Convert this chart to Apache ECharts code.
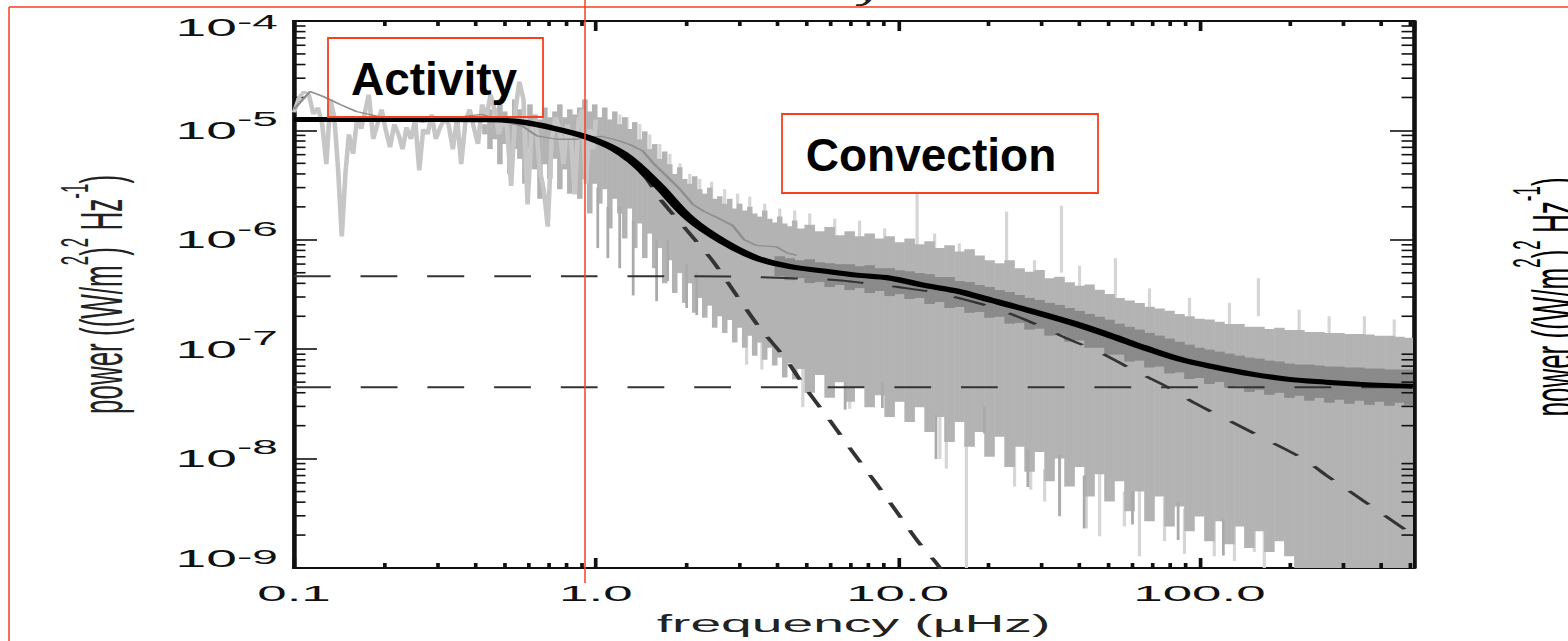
<!DOCTYPE html>
<html><head><meta charset="utf-8">
<script src="https://cdn.jsdelivr.net/npm/echarts@6/dist/echarts.min.js"></script>
<style>
html,body{margin:0;padding:0;background:#fff;width:1568px;height:641px;overflow:hidden;}
#main{position:absolute;left:0;top:0;height:641px;transform-origin:0 0;}
#over{position:absolute;left:0;top:0;width:1568px;height:641px;pointer-events:none;}
</style></head><body>
<div id="main"></div><div id="over"></div>
<script>
// ---------------- data ----------------
const xTickValues = [0.1, 1, 10, 100];
const xTickLabels = ['0.1', '1.0', '10.0', '100.0'];
const yTickValues = [1e-9, 1e-8, 1e-7, 1e-6, 1e-5, 1e-4];
const yTickExps = ['-9', '-8', '-7', '-6', '-5', '-4'];
const xMinorTicks = [0.2,0.3,0.4,0.5,0.6,0.7,0.8,0.9,2,3,4,5,6,7,8,9,20,30,40,50,60,70,80,90,200,300,400,500];
const yMinorTicks = [2e-9,3e-9,4e-9,5e-9,6e-9,7e-9,8e-9,9e-9,2e-8,3e-8,4e-8,5e-8,6e-8,7e-8,8e-8,9e-8,
  2e-7,3e-7,4e-7,5e-7,6e-7,7e-7,8e-7,9e-7,2e-6,3e-6,4e-6,5e-6,6e-6,7e-6,8e-6,9e-6,2e-5,3e-5,4e-5,5e-5,6e-5,7e-5,8e-5,9e-5];

// raw spectrum, low-frequency part (light grey trace)
const lightLowF = [0.100,0.104,0.108,0.112,0.116,0.120,0.124,0.128,0.132,0.136,0.140,0.144,0.148,0.152,0.157,0.162,0.167,0.172,0.177,0.183,0.189,0.195,0.201,0.208,0.215,0.222,0.229,0.236,0.244,0.252,0.260,0.268,0.277,0.286,0.295,0.305,0.315,0.325,0.336,0.347,0.358,0.370,0.382,0.394,0.407,0.420,0.434,0.448,0.462,0.477,0.492,0.508,0.524,0.541,0.558,0.576,0.594,0.613,0.632,0.652,0.672,0.693,0.714,0.736,0.758,0.781,0.804,0.828,0.852,0.877,0.902,0.928,0.954,0.980,1.0];
const lightLowP = [1.46e-5,2.0e-5,2.27e-5,2.13e-5,1.40e-5,1.62e-5,1.14e-5,4.9e-6,1.92e-5,1.32e-5,4.4e-6,1.07e-6,4.0e-6,9.2e-6,6.1e-6,1.32e-5,1.03e-5,1.49e-5,2.13e-5,8.3e-6,1.14e-5,1.56e-5,1.03e-5,7.0e-6,1.14e-5,9.2e-6,6.7e-6,1.07e-5,8.3e-6,1.26e-5,4.3e-6,1.03e-5,9.2e-6,1.40e-5,8.3e-6,1.07e-5,1.26e-5,1.14e-5,6.7e-6,1.32e-5,4.9e-6,1.21e-5,1.56e-5,1.07e-5,7.5e-6,1.73e-5,1.32e-5,2.13e-5,1.56e-5,9.2e-6,1.26e-5,1.07e-5,3.1e-6,1.49e-5,2.8e-5,1.92e-5,2.1e-6,1.03e-5,1.26e-5,4.4e-6,2.9e-6,1.32e-6,8.3e-6,1.32e-5,1.03e-5,4.9e-6,1.14e-5,8.3e-6,2.6e-6,1.26e-5,1.56e-5,3.25e-6,1.03e-5,6.7e-6,1.26e-5];

// spectrum spread [frequency, low power, high power]
const bandLow = [[0.429,9.2e-6,1.14e-5],[0.446,6.75e-6,1.56e-5],[0.463,8.3e-6,1.32e-5],[0.481,4.9e-6,1.73e-5],[0.4995,7.5e-6,1.49e-5],[0.519,4.0e-6,1.14e-5],[0.539,6.75e-6,1.92e-5],[0.560,5.5e-6,1.56e-5],[0.582,3.25e-6,1.26e-5],[0.605,6.75e-6,1.73e-5],[0.628,4.4e-6,1.40e-5],[0.653,2.37e-6,1.26e-5],[0.678,4.9e-6,1.62e-5],[0.704,3.6e-6,1.32e-5],[0.732,5.5e-6,1.49e-5],[0.760,2.9e-6,1.73e-5],[0.790,4.4e-6,1.32e-5],[0.820,2.64e-6,1.56e-5],[0.852,4.0e-6,1.40e-5],[0.885,2.37e-6,1.62e-5],[0.920,3.6e-6,1.92e-5],[0.955,1.74e-6,1.49e-5],[0.992,3.25e-6,1.73e-5],[1.031,2.14e-6,1.32e-5],[1.071,2.9e-6,1.62e-5],[1.113,1.27e-6,1.26e-5],[1.156,2.37e-6,1.49e-5],[1.201,1.74e-6,1.14e-5],[1.247,1.03e-6,1.32e-5],[1.296,1.93e-6,1.03e-5],[1.346,8.4e-7,1.19e-5],[1.399,1.41e-6,8.3e-6],[1.453,6.8e-7,9.8e-6],[1.510,1.14e-6,6.75e-6],[1.568,5.5e-7,7.5e-6],[1.629,8.4e-7,5.5e-6],[1.692,4.0e-7,6.4e-6],[1.758,6.5e-7,4.9e-6],[1.826,3.26e-7,4.0e-6],[1.897,4.96e-7,4.6e-6],[1.971,2.65e-7,3.6e-6],[2.048,4.0e-7,3.25e-6],[2.127,2.15e-7,3.8e-6],[2.210,2.94e-7,2.9e-6],[2.296,1.94e-7,2.64e-6],[2.385,2.5e-7,3.0e-6],[2.477,1.57e-7,2.37e-6],[2.574,2.0e-7,2.5e-6],[2.674,1.41e-7,2.14e-6],[2.778,1.85e-7,2.37e-6],[2.886,1.15e-7,1.93e-6],[2.998,1.57e-7,2.14e-6],[3.114,1.03e-7,1.85e-6],[3.236,1.33e-7,2.0e-6],[3.361,8.7e-8,1.74e-6],[3.492,1.15e-7,1.63e-6],[3.628,8.0e-8,1.85e-6],[3.769,1.03e-7,1.56e-6],[3.915,7.1e-8,1.44e-6],[4.068,8.4e-8,1.63e-6],[4.226,5.5e-8,1.41e-6],[4.390,7.4e-8,1.33e-6],[4.560,5.3e-8,1.5e-6]];
const bandHigh = [[4.738,6.6e-8,1.27e-6],[5.113,4.0e-8,1.37e-6],[5.517,5.8e-8,1.2e-6],[5.954,3.6e-8,1.31e-6],[6.426,5.0e-8,1.1e-6],[6.935,3.3e-8,1.2e-6],[7.484,4.5e-8,1.08e-6],[8.077,2.95e-8,1.14e-6],[8.717,3.8e-8,1.03e-6],[9.408,2.4e-8,1.08e-6],[10.15,3.3e-8,9.5e-7],[10.96,2.16e-8,1.03e-6],[11.82,2.95e-8,9.1e-7],[12.76,1.75e-8,9.7e-7],[13.77,2.4e-8,8.4e-7],[14.86,1.42e-8,8.9e-7],[16.04,2.16e-8,7.8e-7],[17.31,1.28e-8,8.2e-7],[18.68,1.75e-8,7.2e-7],[20.16,1.04e-8,6.5e-7],[21.76,1.58e-8,6.1e-7],[23.49,8.4e-9,6.5e-7],[25.35,1.28e-8,5.5e-7],[27.36,7.6e-9,5.1e-7],[29.53,1.15e-8,5.3e-7],[31.87,6.2e-9,4.46e-7],[34.39,1.0e-8,4.6e-7],[37.12,5.55e-9,4.1e-7],[40.06,8.4e-9,3.8e-7],[43.23,4.5e-9,3.9e-7],[46.66,7.2e-9,3.5e-7],[50.35,4.05e-9,3.2e-7],[54.34,6.2e-9,2.94e-7],[58.65,3.3e-9,2.78e-7],[63.30,5.0e-9,2.65e-7],[68.31,2.67e-9,2.45e-7],[73.72,4.5e-9,2.35e-7],[79.57,2.4e-9,2.25e-7],[85.87,3.65e-9,2.1e-7],[92.67,2.17e-9,2.0e-7],[100.0,2.96e-9,1.9e-7],[107.9,1.76e-9,1.87e-7],[116.5,2.67e-9,1.78e-7],[125.7,1.65e-9,1.7e-7],[135.7,2.4e-9,1.7e-7],[146.4,1.52e-9,1.6e-7],[158.0,2.17e-9,1.6e-7],[170.5,1.4e-9,1.53e-7],[184.1,1.76e-9,1.57e-7],[198.6,1.28e-9,1.5e-7],[214.4,9e-10,1.5e-7],[231.4,9e-10,1.44e-7],[249.7,9e-10,1.44e-7],[269.5,9e-10,1.41e-7],[290.8,9e-10,1.41e-7],[313.9,9e-10,1.38e-7],[338.8,9e-10,1.38e-7],[365.6,9e-10,1.36e-7],[394.6,9e-10,1.33e-7],[425.8,9e-10,1.33e-7],[459.6,9e-10,1.3e-7],[496.0,9e-10,1.27e-7]];
const lightSpikes = [[1.201,5.5e-6,1.4e-5],[1.27,4.4e-6,1.32e-5],[1.399,3.6e-6,1.14e-5],[1.51,2.9e-6,9.2e-6],[1.63,2.4e-6,7.5e-6],[1.76,1.9e-6,6.1e-6],[1.9,1.6e-6,5.0e-6],[2.048,1.27e-6,4.0e-6],[2.21,1.1e-6,3.6e-6],[2.42,1.0e-6,3.4e-6],[2.674,9e-7,2.9e-6],[2.95,8e-7,2.64e-6],[3.236,7e-7,2.48e-6],[3.628,6.5e-7,2.14e-6],[4.068,6e-7,1.93e-6],[4.56,5.5e-7,1.85e-6],[5.113,5e-7,1.74e-6],[6.19,4.5e-7,1.56e-6],[7.48,4.5e-7,1.5e-6],[9.06,4.2e-7,1.27e-6],[11.6,8.4e-7,2.75e-6],[13.26,4e-7,1.14e-6],[16.0,4e-7,9.3e-7],[22.96,6.1e-7,1.81e-6],[28.4,3e-7,6.5e-7],[34.9,5e-7,2.05e-6],[40.06,2.5e-7,5.8e-7],[52.7,2.94e-7,6.8e-7],[68.3,2e-7,3.6e-7],[92.7,1.7e-7,2.94e-7],[125.7,1.5e-7,2.65e-7],[156.8,2.0e-7,4.46e-7],[214,1.3e-7,2.3e-7],[269,1.3e-7,2.0e-7],[352,1.25e-7,2.0e-7],[442,1.2e-7,1.87e-7],
  [3.16,7.2e-8,1.5e-7],[3.55,6.5e-8,1.3e-7],[4.85,2.95e-8,7e-8],[6.94,2.85e-8,5e-8],[9.2,2.4e-8,4e-8],[13.8,9.9e-9,3e-8],[14.5,8.1e-9,3e-8],[16.9,9e-10,2.5e-8],[24.4,5.55e-9,1.5e-8],[27.6,5.2e-9,1.2e-8],[30.7,4.05e-9,8e-9],[34.4,2.96e-9,1.2e-8],[42.2,2.3e-9,6e-9],[46.7,1.95e-9,8e-9],[56.4,2.4e-9,5e-9],[63.3,1.28e-9,5.5e-9],[76.6,1.76e-9,4.5e-9],[89.2,1.35e-9,3.5e-9],[112,1.28e-9,2.7e-9],[130.6,1.16e-9,2.4e-9],[152,1.4e-9,2.2e-9],[164,9e-10,2.2e-9]];
const medSpikes = [[1.015,8.4e-7,3e-6],[1.096,6.8e-7,2e-6],[1.2,5.5e-7,2e-6],[1.33,3.1e-7,1.5e-6],[1.59,2.75e-7,1e-6],[1.73,4.2e-7,1e-6],[2.0,2.38e-7,6e-7],[2.16,2.05e-7,5e-7],[6.7,2.8e-8,5e-8],[8.9,2.9e-8,5e-8],[13.4,9.9e-9,2.5e-8],[19.4,1.7e-8,3e-8],[27.0,5.5e-9,1.2e-8],[34.4,3e-9,1.1e-8],[41.5,2.3e-9,7e-9],[60,2.5e-9,5e-9],[85,1.8e-9,4e-9],[120,1.3e-9,2.8e-9]];
// smoothed spectrum: dark band at high frequency, dark line at low frequency
const darkBand = [[4.068,4.65e-7,7.07e-7],[4.390,4.28e-7,6.78e-7],[4.738,4.46e-7,6.5e-7],[5.113,4.02e-7,6.64e-7],[5.517,4.11e-7,6.24e-7],[5.954,3.70e-7,6.11e-7],[6.426,3.86e-7,5.98e-7],[6.935,3.47e-7,5.98e-7],[7.484,3.62e-7,5.73e-7],[8.077,3.26e-7,5.86e-7],[8.717,3.40e-7,5.50e-7],[9.408,3.06e-7,5.50e-7],[10.15,3.19e-7,5.27e-7],[10.96,2.88e-7,5.16e-7],[11.82,2.94e-7,4.96e-7],[12.76,2.59e-7,4.85e-7],[13.77,2.70e-7,4.56e-7],[14.86,2.38e-7,4.56e-7],[16.04,2.43e-7,4.19e-7],[17.31,2.15e-7,4.11e-7],[18.68,2.19e-7,3.86e-7],[20.16,1.94e-7,3.70e-7],[21.76,1.98e-7,3.47e-7],[23.49,1.71e-7,3.33e-7],[25.35,1.74e-7,3.13e-7],[27.36,1.51e-7,2.94e-7],[29.53,1.54e-7,2.82e-7],[31.87,1.33e-7,2.65e-7],[34.39,1.36e-7,2.54e-7],[37.12,1.17e-7,2.38e-7],[40.06,1.20e-7,2.24e-7],[43.23,1.03e-7,2.10e-7],[46.66,1.03e-7,1.98e-7],[50.35,8.92e-8,1.86e-7],[54.34,8.92e-8,1.71e-7],[58.65,7.71e-8,1.60e-7],[63.30,7.87e-8,1.51e-7],[68.31,6.80e-8,1.41e-7],[73.72,6.94e-8,1.33e-7],[79.57,6.00e-8,1.25e-7],[85.87,6.13e-8,1.17e-7],[92.67,5.34e-8,1.10e-7],[100.0,5.45e-8,1.03e-7],[107.9,4.81e-8,9.91e-8],[116.5,5.02e-8,9.50e-8],[125.7,4.43e-8,9.11e-8],[135.7,4.62e-8,8.74e-8],[146.4,4.07e-8,8.38e-8],[158.0,4.25e-8,8.21e-8],[170.5,3.83e-8,7.87e-8],[184.1,3.99e-8,7.71e-8],[198.6,3.59e-8,7.39e-8],[214.4,3.75e-8,7.24e-8],[231.4,3.38e-8,7.24e-8],[249.7,3.59e-8,7.09e-8],[269.5,3.24e-8,6.94e-8],[290.8,3.45e-8,6.94e-8],[313.9,3.17e-8,6.80e-8],[338.8,3.38e-8,6.80e-8],[365.6,3.10e-8,6.66e-8],[394.6,3.31e-8,6.66e-8],[425.8,3.04e-8,6.52e-8],[459.6,3.24e-8,6.52e-8],[496.0,3.10e-8,6.52e-8]];
const smoothF = [0.1,0.113,0.125,0.142,0.161,0.188,0.224,0.267,0.32,0.374,0.42,0.49,0.573,0.638,0.743,0.865,0.934,1.05,1.2,1.3,1.43,1.55,1.72,1.9,2.1,2.3,2.52,2.84,3.1,3.4,3.97,4.3,4.63];
const smoothP = [1.56e-5,2.27e-5,2.04e-5,1.73e-5,1.49e-5,1.35e-5,1.26e-5,1.19e-5,1.26e-5,1.35e-5,1.4e-5,1.21e-5,1.09e-5,8.9e-6,8.3e-6,8.3e-6,8.7e-6,8.8e-6,8.0e-6,7.4e-6,6.5e-6,5.0e-6,3.8e-6,2.9e-6,2.1e-6,1.8e-6,1.6e-6,1.35e-6,1.0e-6,8.9e-7,8.6e-7,7.6e-7,7.2e-7];
// fitted model and its components
const fitF = [0.1,0.2,0.3,0.45,0.56,0.71,0.955,1.23,1.59,2.05,2.63,3.41,4.39,5.64,7.3,9.4,12.1,15.7,20.2,27,37.9,50,65.8,86.8,114,150,198,261,344,510];
const fitP = [1.26e-5,1.26e-5,1.26e-5,1.25e-5,1.2e-5,1.06e-5,8.5e-6,6.1e-6,3.25e-6,1.56e-6,9.7e-7,6.8e-7,5.7e-7,5.2e-7,4.75e-7,4.47e-7,3.86e-7,3.4e-7,2.82e-7,2.28e-7,1.74e-7,1.35e-7,1.03e-7,8.05e-8,6.8e-8,5.9e-8,5.3e-8,5.0e-8,4.77e-8,4.58e-8];
const actF = [0.1,0.5,0.8,1.0,1.2,1.45,1.65,2.02,2.44,2.93,3.49,4.22,4.99,5.95,7.1,8.5,9.9,11.65,13.5,14.5];
const actP = [1.26e-5,1.24e-5,1.0e-5,8.0e-6,6.0e-6,3.8e-6,2.28e-6,1.19e-6,6.4e-7,3.1e-7,1.57e-7,8.4e-8,4.3e-8,2.25e-8,1.15e-8,5.9e-9,3.3e-9,1.76e-9,1.09e-9,8.2e-10];
const granF = [0.1,1,3,5,6.5,8.5,10,13.5,19,26,36,47,62,78.4,98,128,165,220,260,350,510];
const granP = [4.65e-7,4.65e-7,4.6e-7,4.4e-7,4.25e-7,3.9e-7,3.7e-7,3.27e-7,2.58e-7,1.9e-7,1.27e-7,9.3e-8,6.2e-8,4.5e-8,3.14e-8,2.16e-8,1.51e-8,1.0e-8,7.2e-9,4.1e-9,2.0e-9];
const noiseF = [0.1, 510];
const noiseP = [4.5e-8, 4.5e-8];

// ---------------- drawing ----------------
const S = 2.3;              // horizontal stretch of the original figure
const W = 1568 / S;
const FONT = "'Liberation Sans', Arial, Helvetica, sans-serif";
const mainEl = document.getElementById('main');
mainEl.style.width = W + 'px';
mainEl.style.transform = 'scaleX(' + S + ')';
const chart = echarts.init(mainEl, null, {renderer: 'svg', width: W, height: 641});

function near(a, b) { return Math.abs(Math.log10(a) - Math.log10(b)) < 1e-6; }
function rectSeries(data, color, w) {
  return {
    type: 'custom', silent: true, animation: false, data: data,
    encode: {x: 0, y: [1, 2]},
    renderItem: function (params, api) {
      const f = api.value(0), lo = api.value(1), hi = api.value(2);
      const pt = api.coord([f, hi]), pb = api.coord([f, lo]);
      const cs = params.coordSys;
      const shape = echarts.graphic.clipRectByRect(
        {x: pt[0] - w / 2, y: pt[1], width: w, height: pb[1] - pt[1]},
        {x: cs.x, y: cs.y, width: cs.width, height: cs.height});
      if (!shape) return null;
      return {type: 'rect', shape: shape, style: {fill: color}};
    }
  };
}
function lineSeries(fs, ps, color, width, dash, smooth) {
  return {
    type: 'line', data: fs.map(function (f, i) { return [f, ps[i]]; }),
    symbol: 'none', showSymbol: false, smooth: smooth || false,
    silent: true, animation: false, clip: true,
    lineStyle: {color: color, width: width, type: dash || 'solid', cap: 'butt'}
  };
}
const TICK = '#111';
const minorX = {
  type: 'custom', silent: true, animation: false,
  data: xMinorTicks.map(function (v) { return [v, 1e-6]; }),
  renderItem: function (params, api) {
    const p = api.coord([api.value(0), api.value(1)]);
    const cs = params.coordSys, b = cs.y + cs.height, t = cs.y;
    return {type: 'group', children: [
      {type: 'line', shape: {x1: p[0], y1: b, x2: p[0], y2: b - 5}, style: {stroke: TICK, lineWidth: 1.6}},
      {type: 'line', shape: {x1: p[0], y1: t, x2: p[0], y2: t + 5}, style: {stroke: TICK, lineWidth: 1.6}}
    ]};
  }
};
const minorY = {
  type: 'custom', silent: true, animation: false,
  data: yMinorTicks.map(function (v) { return [1, v]; }),
  renderItem: function (params, api) {
    const p = api.coord([api.value(0), api.value(1)]);
    const cs = params.coordSys, l = cs.x, r = cs.x + cs.width;
    return {type: 'group', children: [
      {type: 'line', shape: {x1: l, y1: p[1], x2: l + 5, y2: p[1]}, style: {stroke: TICK, lineWidth: 1.6}},
      {type: 'line', shape: {x1: r, y1: p[1], x2: r - 5, y2: p[1]}, style: {stroke: TICK, lineWidth: 1.6}}
    ]};
  }
};
const axLine = {show: true, onZero: false, lineStyle: {color: TICK, width: 2}};
const axTick = {show: true, inside: true, length: 10, lineStyle: {color: TICK, width: 1.6}};
const titleRich = {
  a: {fontSize: 26, lineHeight: 40, fontFamily: FONT, color: '#222'},
  p: {fontSize: 17, lineHeight: 17, verticalAlign: 'top', fontFamily: FONT, color: '#222'}
};
const titleText = '{a|power ((W/m}{p|2}{a|)}{p|2}{a| Hz}{p|-1}{a|)}';
const LBL = '#111';

chart.setOption({
  animation: false,
  grid: {left: 294 / S, top: 21, width: 1119 / S, height: 551},
  xAxis: [
    {type: 'log', logBase: 10, min: 0.1, max: 510, position: 'bottom',
     axisLine: axLine, axisTick: axTick, splitLine: {show: false},
     axisLabel: {margin: 14, fontSize: 23, fontFamily: FONT, color: LBL, showMaxLabel: false,
       formatter: function (v) { for (let i = 0; i < xTickValues.length; i++) if (near(v, xTickValues[i])) return xTickLabels[i]; return ''; }},
     name: 'frequency (µHz)', nameLocation: 'middle', nameGap: 44,
     nameTextStyle: {fontSize: 24, fontFamily: FONT, color: '#222'}},
    {type: 'log', logBase: 10, min: 0.1, max: 510, position: 'top',
     axisLine: axLine, axisTick: axTick, splitLine: {show: false}, axisLabel: {show: false}}
  ],
  yAxis: [
    {type: 'log', logBase: 10, min: 1e-9, max: 1e-4, position: 'left',
     axisLine: axLine, axisTick: axTick, splitLine: {show: false},
     axisLabel: {margin: 7, color: LBL,
       formatter: function (v) {
         for (let i = 0; i < yTickValues.length; i++) {
           if (near(v, yTickValues[i])) {
             if (i === 0) return '{bb|10}{s|' + yTickExps[i] + '}';
             if (i === yTickValues.length - 1) return '{bt|10}{st|' + yTickExps[i] + '}';
             return '{b|10}{s|' + yTickExps[i] + '}';
           }
         }
         return '';
       },
       rich: {
         b: {fontSize: 24, lineHeight: 42, fontFamily: FONT, color: LBL},
         s: {fontSize: 20, lineHeight: 20, verticalAlign: 'top', fontFamily: FONT, color: LBL},
         bb: {fontSize: 24, lineHeight: 42, padding: [0, 0, 18, 0], fontFamily: FONT, color: LBL},
         bt: {fontSize: 24, lineHeight: 42, padding: [14, 0, 0, 0], fontFamily: FONT, color: LBL},
         st: {fontSize: 20, lineHeight: 20, padding: [12, 0, 0, 0], verticalAlign: 'top', fontFamily: FONT, color: LBL}
       }},
     name: titleText, nameLocation: 'middle', nameGap: 64,
     nameTextStyle: {rich: titleRich}},
    {type: 'log', logBase: 10, min: 1e-9, max: 1e-4, position: 'right',
     axisLine: axLine, axisTick: axTick, splitLine: {show: false}, axisLabel: {show: false}}
  ],
  graphic: [
    {type: 'text', x: 1553 / S, y: 297, rotation: Math.PI / 2, silent: true,
     style: {text: titleText, rich: titleRich, align: 'center', verticalAlign: 'middle'}},
    {type: 'text', x: 868 / S, y: 5, silent: true,
     style: {text: 'y', fontSize: 24, fontFamily: FONT, fill: '#222', align: 'center', verticalAlign: 'bottom'}}
  ],
  series: [
    rectSeries(lightSpikes, '#d6d6d6', 1.4),
    lineSeries(lightLowF, lightLowP, '#c6c6c6', 2),
    rectSeries(bandLow, '#b3b3b3', 2.4),
    rectSeries(bandHigh, '#b3b3b3', 4.6),
    rectSeries(medSpikes, '#aaaaaa', 1.2),
    rectSeries(darkBand, '#8a8a8a', 4.6),
    lineSeries(smoothF, smoothP, '#8f8f8f', 1.3),
    lineSeries(granF, granP, '#333', 2, [16, 13], 0.3),
    lineSeries(noiseF, noiseP, '#333', 2, [16, 13]),
    lineSeries(actF, actP, '#333', 2, [16, 13], 0.3),
    lineSeries(fitF, fitP, '#000', 5, 'solid', 0.35),
    minorX, minorY
  ]
});

// ---------------- annotations (drawn unstretched) ----------------
const RED = '#f8401f';
const over = echarts.init(document.getElementById('over'), null, {renderer: 'svg', width: 1568, height: 641});
over.setOption({
  animation: false,
  graphic: [
    {type: 'line', shape: {x1: 9, y1: 7, x2: 1568, y2: 7}, style: {stroke: RED, lineWidth: 1.5}},
    {type: 'line', shape: {x1: 9, y1: 7, x2: 9, y2: 641}, style: {stroke: RED, lineWidth: 1.5}},
    {type: 'line', shape: {x1: 585, y1: 0, x2: 585, y2: 583}, style: {stroke: RED, lineWidth: 1.5}},
    {type: 'rect', shape: {x: 328, y: 38, width: 215, height: 79}, style: {fill: 'none', stroke: RED, lineWidth: 1.8}},
    {type: 'rect', shape: {x: 782, y: 114, width: 316, height: 79}, style: {fill: 'none', stroke: RED, lineWidth: 1.8}},
    {type: 'text', x: 434, y: 79, style: {text: 'Activity', fontSize: 46, fontWeight: 'bold', fontFamily: FONT, fill: '#000', align: 'center', verticalAlign: 'middle'}},
    {type: 'text', x: 931, y: 155, style: {text: 'Convection', fontSize: 46, fontWeight: 'bold', fontFamily: FONT, fill: '#000', align: 'center', verticalAlign: 'middle'}}
  ]
});
</script>
</body></html>
